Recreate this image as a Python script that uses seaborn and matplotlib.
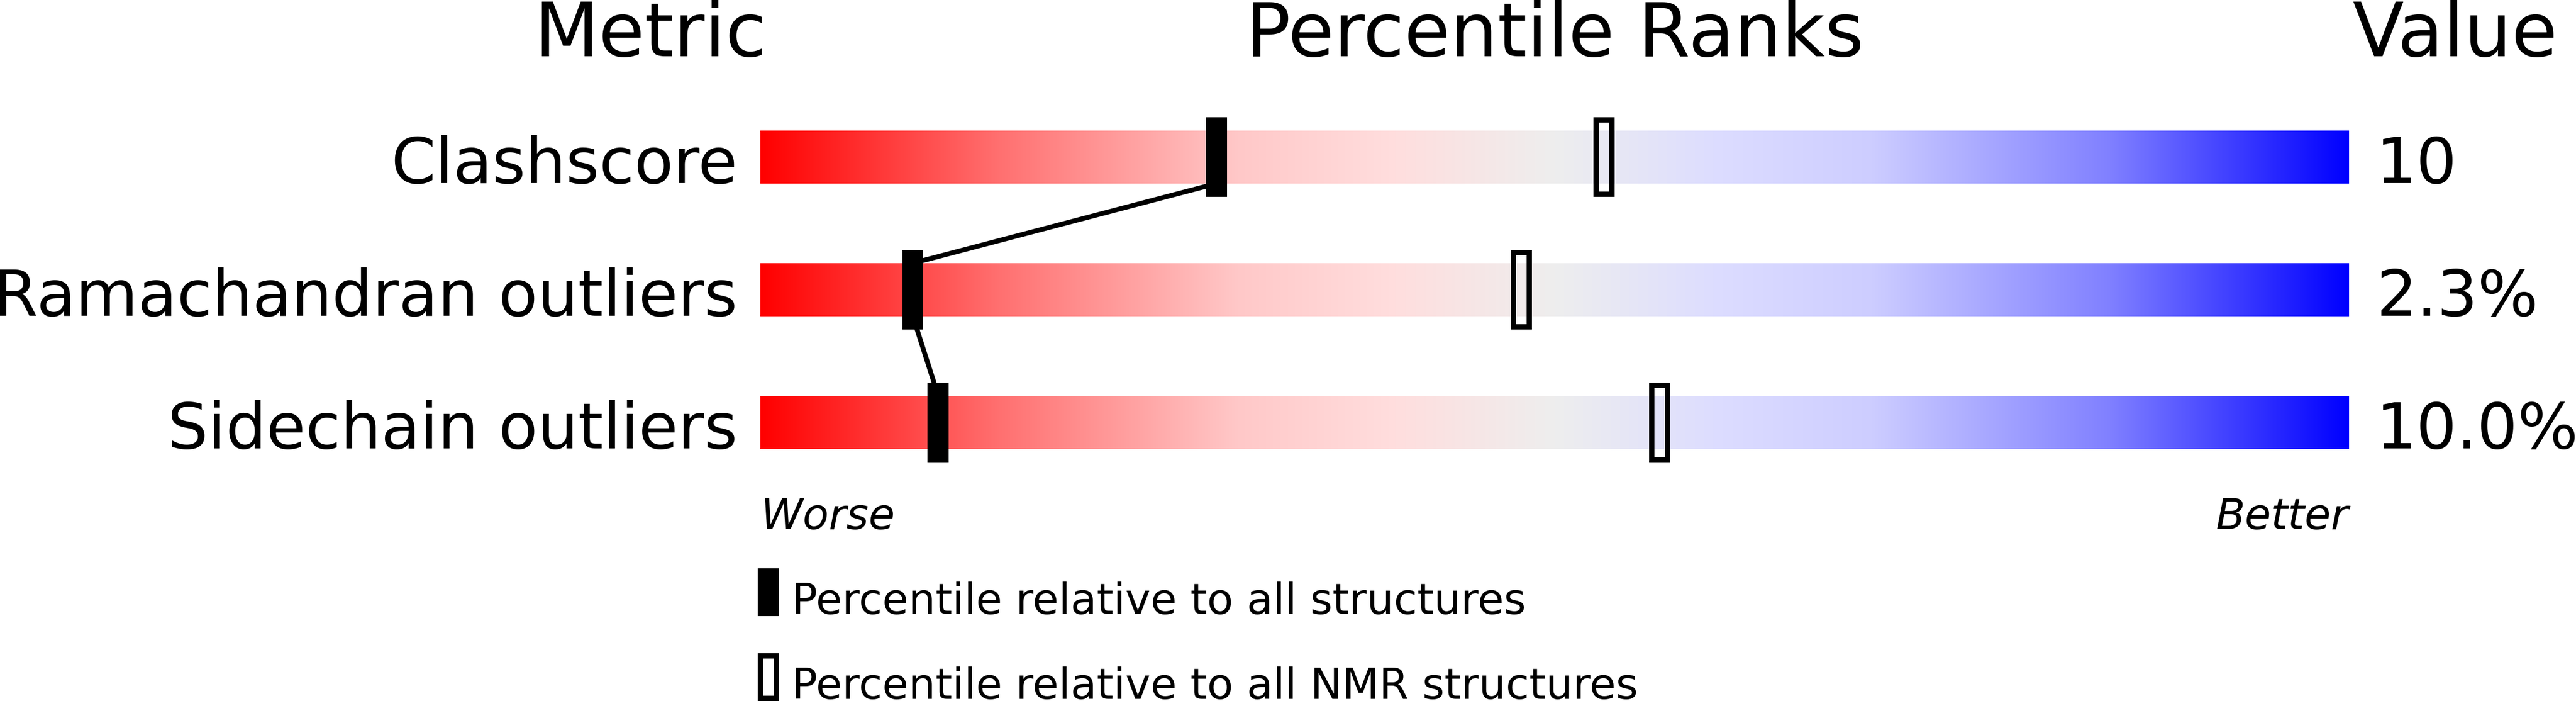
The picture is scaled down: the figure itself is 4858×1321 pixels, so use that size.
import matplotlib
matplotlib.use("Agg")
import matplotlib.pyplot as plt
import numpy as np
import pandas as pd
import seaborn as sns

# values
metrics = ["Clashscore", "Ramachandran outliers", "Sidechain outliers"]
values = ["10", "2.3%", "10.0%"]
pct_all = [28.7, 9.6, 11.2]
pct_nmr = [53.1, 47.9, 56.6]
legend_labels = ["Percentile relative to all structures",
                 "Percentile relative to all NMR structures"]

sns.set_style("white")
plt.rcParams['font.family'] = ['DejaVu Sans']
plt.rcParams['text.color'] = 'black'

fig = plt.figure(figsize=(48.58, 13.21), dpi=100)
ax = fig.add_axes([0, 0, 1, 1])

rows = np.arange(len(metrics))
bar_h = 0.4

####################################################################################################
## red -> grey -> blue gradient bars
####################################################################################################
stops = [0, .15, .3, .4, .5, .6, .7, .85, 1]
r = [255, 255, 255, 255, 238, 221, 205, 128, 0]
g = [0, 112, 200, 222, 238, 221, 205, 128, 0]
b = [0, 112, 200, 222, 238, 255, 255, 255, 255]
t = np.linspace(0, 1, 1000)
grad = np.dstack([np.interp(t, stops, c) for c in (r, g, b)]) / 255.0
for i in rows:
    ax.imshow(grad, extent=(0, 100, i + bar_h / 2, i - bar_h / 2), aspect='auto',
              interpolation='bilinear', zorder=1)

# connector between the "all structures" markers
xs, ys = [], []
for i in range(len(metrics) - 1):
    xs += [pct_all[i], pct_all[i + 1]]
    ys += [rows[i] + bar_h / 2, rows[i + 1] - bar_h / 2]
path = pd.DataFrame({"x": xs, "y": ys})
sns.lineplot(data=path, x="x", y="y", sort=False, estimator=None, color="black",
             linewidth=6.5, ax=ax, zorder=2, solid_capstyle='butt')

# markers
ax.bar(pct_all, 0.56, width=1.0, bottom=rows - 0.28, color='black', edgecolor='black',
       linewidth=7.2, zorder=3)
ax.bar(pct_nmr, 0.56, width=1.0, bottom=rows - 0.28, facecolor='none', edgecolor='black',
       linewidth=7.2, zorder=3)

####################################################################################################
## texts
####################################################################################################
ax.text(-6.94, -0.76, "Metric", fontsize=101.5, ha='center', va='baseline')
ax.text(50, -0.76, "Percentile Ranks", fontsize=101.5, ha='center', va='baseline')
ax.text(106.7, -0.76, "Value", fontsize=101.5, ha='center', va='baseline')

for i in rows:
    ax.text(-1.44, i + 0.196, metrics[i], fontsize=86.7, ha='right', va='baseline')
    ax.text(101.7, i + 0.196, values[i], fontsize=86.7, ha='left', va='baseline')

ax.text(0, 2.804, "Worse", fontsize=58, style='italic', ha='left', va='baseline')
ax.text(100, 2.804, "Better", fontsize=58, style='italic', ha='right', va='baseline')

# legend
leg_y = np.array([3.28, 3.92])
ax.bar([0.5], [0.32], width=1.0, bottom=leg_y[0] - 0.16, color='black', edgecolor='black',
       linewidth=7.2)
ax.bar([0.5], [0.32], width=1.0, bottom=leg_y[1] - 0.16, facecolor='none', edgecolor='black',
       linewidth=7.2)
for yy, lab in zip(leg_y, legend_labels):
    ax.text(1.97, yy + 0.164, lab, fontsize=58, ha='left', va='baseline')

ax.set_xlim(-47.86, 114.29)
ax.set_ylim(4.1, -1.184)
ax.axis('off')

fig.savefig("out.png", dpi=100)
